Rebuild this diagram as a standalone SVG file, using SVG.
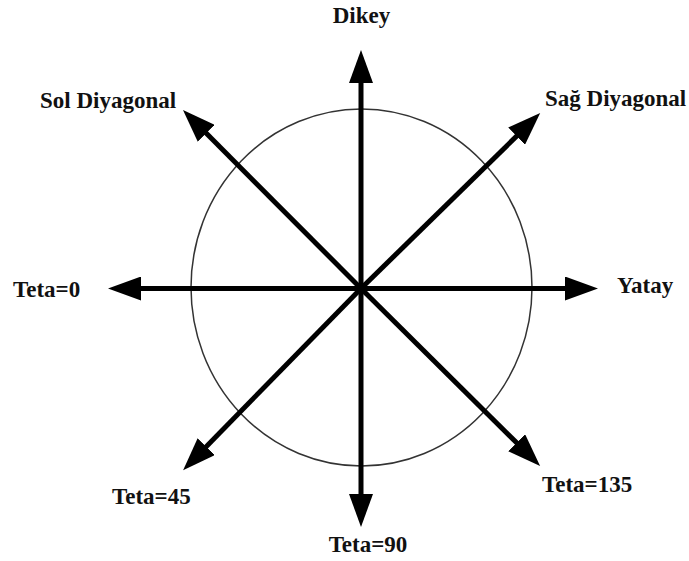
<svg xmlns="http://www.w3.org/2000/svg" width="689" height="561" viewBox="0 0 689 561">
<style>
.lbl{font-family:"Liberation Serif","Times New Roman",serif;font-weight:bold;font-size:23px;fill:#111}
.ax{stroke:#000;stroke-width:5;fill:none;marker-end:url(#ah)}
</style>
<defs>
<marker id="ah" markerUnits="userSpaceOnUse" markerWidth="34" markerHeight="24" refX="13" refY="12" orient="auto">
<path d="M0,0 L33,12 L0,24 Z" fill="#000"/>
</marker>
</defs>
<rect width="689" height="561" fill="#fff"/>
<g id="circle">
<ellipse cx="361.5" cy="287.5" rx="170.5" ry="178.5" fill="none" stroke="#333" stroke-width="1.5"/>
</g>
<g id="connectors">
<line class="ax" x1="361" y1="288.5" x2="361" y2="70"/>
<line class="ax" x1="361" y1="288.5" x2="361" y2="507"/>
<line class="ax" x1="361" y1="288.5" x2="128" y2="288.5"/>
<line class="ax" x1="361" y1="288.5" x2="578" y2="288.5"/>
<line class="ax" x1="361" y1="288.5" x2="197.1" y2="124.1"/>
<line class="ax" x1="361" y1="288.5" x2="525.9" y2="127.1"/>
<line class="ax" x1="361" y1="288.5" x2="197.1" y2="455.9"/>
<line class="ax" x1="361" y1="288.5" x2="525.9" y2="451.9"/>
</g>
<g id="dikey"><text class="lbl" x="361.5" y="23" text-anchor="middle">Dikey</text></g>
<g id="sol"><text class="lbl" x="40" y="108">Sol Diyagonal</text></g>
<g id="sag"><text class="lbl" x="545" y="106">Sağ Diyagonal</text></g>
<g id="teta0"><text class="lbl" x="13" y="297">Teta=0</text></g>
<g id="yatay"><text class="lbl" x="617" y="293">Yatay</text></g>
<g id="teta45"><text class="lbl" x="112" y="504">Teta=45</text></g>
<g id="teta90"><text class="lbl" x="368" y="552" text-anchor="middle">Teta=90</text></g>
<g id="teta135"><text class="lbl" x="542" y="492">Teta=135</text></g>
</svg>
